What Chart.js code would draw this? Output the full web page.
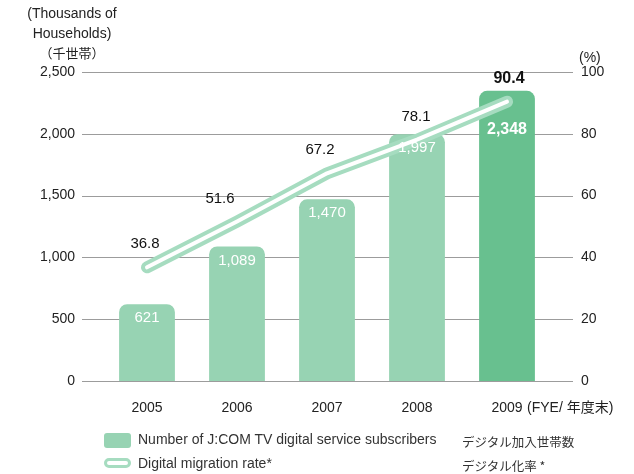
<!DOCTYPE html>
<html>
<head>
<meta charset="utf-8">
<script src="https://cdn.jsdelivr.net/npm/chart.js@4"></script>
<style>
body{margin:0;background:#fff;font-family:"Liberation Sans",Arial,"Noto Sans CJK JP",sans-serif;color:#222}
#wrap{position:relative;width:634px;height:474px}
canvas{position:absolute;left:0;top:0}
.t{position:absolute;font-size:14px;color:#222;white-space:nowrap}
.lg{position:absolute;font-size:14px;color:#333;white-space:nowrap}
.jp{font-family:"Noto Sans CJK JP",sans-serif;font-size:12.5px}
.sw1{position:absolute;left:104px;top:433px;width:27px;height:15px;background:#97d3b3;border-radius:3px}
.sw2{position:absolute;left:104px;top:458px;width:21px;height:4px;border:3px solid #a6dcc0;border-radius:6px;background:#fff}
</style>
</head>
<body>
<div id="wrap">
<canvas id="c" width="634" height="474"></canvas>
<div class="t" style="left:0;top:3px;width:144px;text-align:center;line-height:20px">(Thousands of<br>Households)<br><span class="jp" style="font-size:13px">（千世帯）</span></div>
<div class="t" style="left:579px;top:49px">(%)</div>
<div class="t" id="fye" style="left:527px;top:398px;line-height:17px">(FYE/ <span class="jp" style="font-size:14px">年度末</span>)</div>
<div class="sw1"></div>
<div class="lg" style="left:138px;top:431px">Number of J:COM TV digital service subscribers</div>
<div class="lg jp" style="left:462px;top:432px">デジタル加入世帯数</div>
<div class="sw2"></div>
<div class="lg" style="left:138px;top:455px">Digital migration rate*</div>
<div class="lg jp" style="left:462px;top:456px">デジタル化率 *</div>
</div>
<script>
const years=["2005","2006","2007","2008","2009"]
const subscribers=[621,1089,1470,1997,2348]
const migrationRate=[36.8,51.6,67.2,78.1,90.4]
const barColors=["#97d3b3","#97d3b3","#97d3b3","#97d3b3","#68c08f"]
const barLabelDrop=[14,14,14,14,39]
const rateLabelShift=[-2,-17,-7,-1,2]

const font="'Liberation Sans', Arial, 'Noto Sans CJK JP', sans-serif"

const extras={
id:"extras",
beforeDatasetsDraw(chart){
const ctx=chart.ctx
const y=chart.scales.y
ctx.save()
ctx.strokeStyle="#9c9c9c"
ctx.lineWidth=1
y.ticks.forEach(t=>{
const py=Math.round(y.getPixelForValue(t.value))+0.5
ctx.beginPath()
ctx.moveTo(82,py)
ctx.lineTo(573,py)
ctx.stroke()
})
ctx.restore()
},
afterDatasetsDraw(chart){
const ctx=chart.ctx
ctx.save()
ctx.textAlign="center"
ctx.textBaseline="middle"
const bars=chart.getDatasetMeta(0).data
bars.forEach((b,i)=>{
const last=i===bars.length-1
ctx.fillStyle="#fff"
ctx.font=(last?"bold 16px ":"15px ")+font
ctx.fillText(subscribers[i].toLocaleString("en-US"),b.x,b.y+barLabelDrop[i])
})
const pts=chart.getDatasetMeta(1).data
pts.forEach((p,i)=>{
const last=i===pts.length-1
ctx.fillStyle="#111"
ctx.font=(last?"bold 16px ":"15px ")+font
ctx.fillText(migrationRate[i].toFixed(1),p.x+rateLabelShift[i],p.y-23)
})
ctx.restore()
}
}

new Chart(document.getElementById("c"),{
data:{
labels:years,
datasets:[
{type:"bar",data:subscribers,backgroundColor:barColors,yAxisID:"y",order:3,
barPercentage:0.62,categoryPercentage:1,
borderRadius:{topLeft:8,topRight:8,bottomLeft:0,bottomRight:0},borderSkipped:"bottom"},
{type:"line",data:migrationRate,yAxisID:"y2",order:2,borderColor:"#a6dcc0",borderWidth:12,
pointRadius:0,borderCapStyle:"round",borderJoinStyle:"round",tension:0},
{type:"line",data:migrationRate,yAxisID:"y2",order:1,borderColor:"#ffffff",borderWidth:4,
pointRadius:0,borderCapStyle:"round",borderJoinStyle:"round",tension:0}
]
},
options:{
responsive:false,
animation:false,
layout:{padding:{top:72,left:0,right:0,bottom:0}},
plugins:{legend:{display:false},tooltip:{enabled:false}},
scales:{
x:{
grid:{display:false,drawTicks:false},
border:{display:false},
ticks:{color:"#222",font:{family:font,size:14},padding:19,maxRotation:0,autoSkip:false},
afterFit(s){s.height=93}
},
y:{
position:"left",min:0,max:2500,
grid:{display:false,drawTicks:false},
border:{display:false},
ticks:{stepSize:500,color:"#222",font:{family:font,size:14},padding:27,
callback:v=>v.toLocaleString("en-US")},
afterFit(s){s.width=102}
},
y2:{
position:"right",min:0,max:100,
grid:{display:false,drawTicks:false},
border:{display:false},
ticks:{stepSize:20,color:"#222",font:{family:font,size:14},padding:29},
afterFit(s){s.width=82}
}
}
},
plugins:[extras]
})
</script>
</body>
</html>
